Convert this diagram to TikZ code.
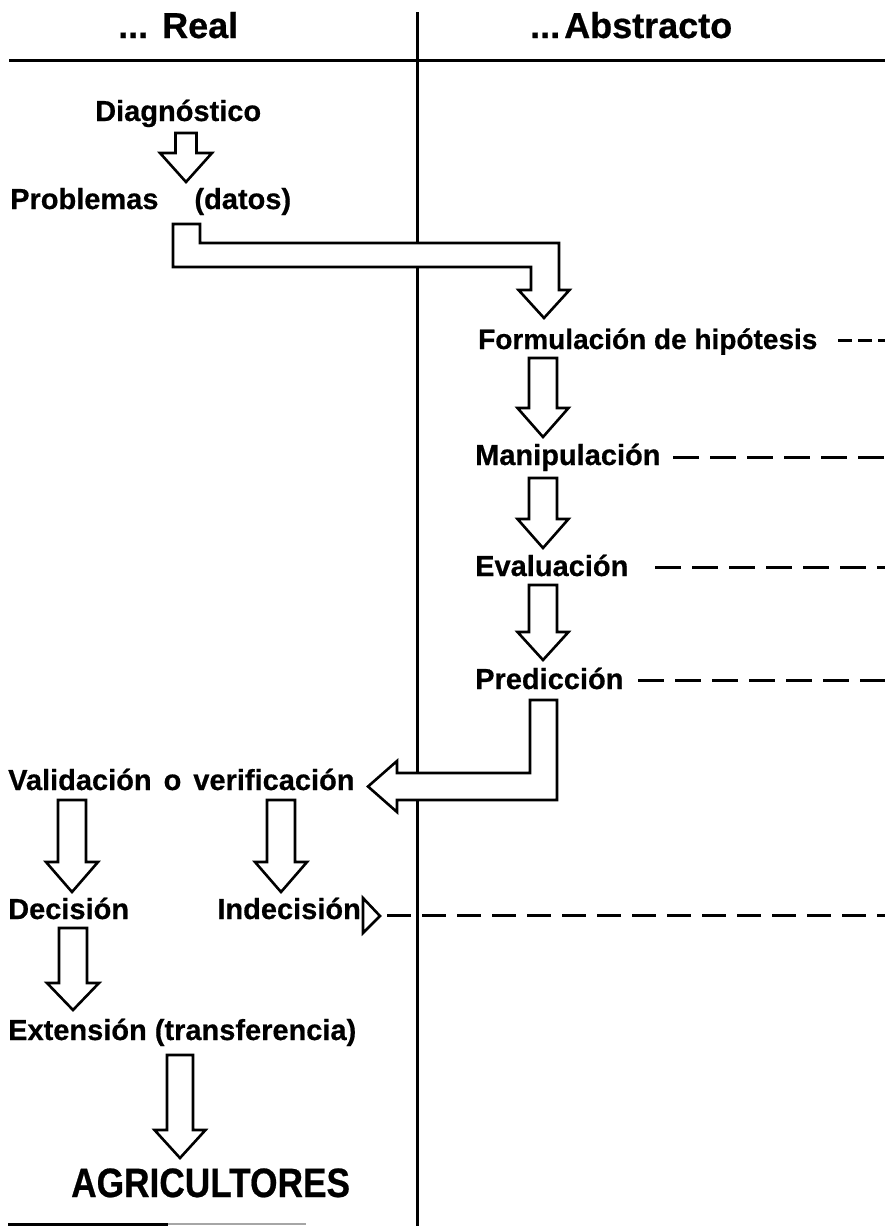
\documentclass[tikz,border=0pt]{standalone}
\usepackage{fontspec}
\setmainfont{Liberation Sans}
\newfontfamily\hv{Liberation Sans}[UprightFont=* Bold, FakeBold=0.6]
\usetikzlibrary{calc}
\newcommand{\fatdown}[5]{%
  \draw[fat] ($(#1)+(-#3,0)$) -- ($(#1)+(#3,0)$) -- ($(#2)+(#3,-#5)$) -- ($(#2)+(#4,-#5)$) -- (#2) -- ($(#2)+(-#4,-#5)$) -- ($(#2)+(-#3,-#5)$) -- cycle;}
\begin{document}
\begin{tikzpicture}[x=1pt,y=-1pt,
  lbl/.style={anchor=base west, inner sep=0pt, font=\fontsize{29}{31}\selectfont\hv},
  hdr/.style={anchor=base west, inner sep=0pt, font=\fontsize{36}{40}\selectfont\hv},
  rulew/.style={line width=3pt},
  fat/.style={draw, line width=2.6pt, fill=white, line join=miter},
  dline/.style={line width=3pt, dash pattern=on 26pt off 11pt}]
\useasboundingbox (0,0) rectangle (884,1226);
\fill[white] (0,0) rectangle (884,1226);
% frame lines
\coordinate (vt) at (417,12);
\coordinate (vb) at (417,1230);
\coordinate (hl) at (9,60);
\coordinate (hr) at (890,60);
\draw[rulew] (vt) -- (vb);
\draw[rulew] (hl) -- (hr);
\coordinate (bl) at (8,1224);
\coordinate (bm) at (168,1224);
\coordinate (br) at (306,1224);
\draw[rulew] (bl) -- (bm);
\draw[line width=2.5pt, black!35] (bm) -- (br);
% headers
\node[hdr] (real) at (118,38) {...\hspace{14pt}Real};
\node[hdr] (abs) at (530,38) {...\hspace{4pt}Abstracto};
% labels
\node[lbl] (diag) at (95,121) {Diagnóstico};
\node[lbl] (prob) at (10,209) {Problemas\hspace{36pt}(datos)};
\node[lbl, font=\fontsize{28}{31}\selectfont\hv] (form) at (478,349) {Formulación de hipótesis};
\node[lbl] (manip) at (475,465) {Manipulación};
\node[lbl] (eval) at (475,576) {Evaluación};
\node[lbl] (pred) at (475,689) {Predicción};
\node[lbl] (valid) at (8,790) {Validación\hspace{12pt}o\hspace{12pt}verificación};
\node[lbl] (dec) at (8,919) {Decisión};
\node[lbl, anchor=base east] (indec) at (361,919) {Indecisión};
\node[lbl] (ext) at (8,1040) {Extensión (transferencia)};
\node[anchor=base west, inner sep=0pt, font=\fontsize{41}{44}\selectfont\hv] (agri) at (71,1197) {\scalebox{0.86}[1]{AGRICULTORES}};
% straight fat arrows
\coordinate (a1t) at (186,133); \coordinate (a1h) at (186,182);
\fatdown{a1t}{a1h}{10.5}{26}{29}
\coordinate (a3t) at (543,358); \coordinate (a3h) at (543,437);
\fatdown{a3t}{a3h}{14}{25.5}{29}
\coordinate (a4t) at (543,478); \coordinate (a4h) at (543,548);
\fatdown{a4t}{a4h}{14}{25.5}{29}
\coordinate (a5t) at (543,585); \coordinate (a5h) at (543,660);
\fatdown{a5t}{a5h}{14}{25.5}{28}
\coordinate (a6t) at (72,800); \coordinate (a6h) at (72,892);
\fatdown{a6t}{a6h}{14}{26}{30}
\coordinate (a7t) at (281,800); \coordinate (a7h) at (281,892);
\fatdown{a7t}{a7h}{14}{26}{30}
\coordinate (a8t) at (73,928); \coordinate (a8h) at (73,1010);
\fatdown{a8t}{a8h}{14}{26}{27}
\coordinate (a9t) at (180,1055); \coordinate (a9h) at (180,1158);
\fatdown{a9t}{a9h}{13}{25.5}{28}
% bent arrow: Problemas -> Formulacion
\coordinate (b1t) at (186.5,224);
\coordinate (b1h) at (544,318);
\draw[fat] ($(b1t)+(-13.5,0)$) -- ($(b1t)+(13.5,0)$) -- ($(b1t)+(13.5,19)$) -- ($(b1h)+(15,-75)$) -- ($(b1h)+(15,-28)$) -- ($(b1h)+(25.5,-28)$) -- (b1h) -- ($(b1h)+(-25.5,-28)$) -- ($(b1h)+(-13,-28)$) -- ($(b1h)+(-13,-51)$) -- ($(b1t)+(-13.5,43)$) -- cycle;
% bent arrow: Prediccion -> Validacion
\coordinate (b2t) at (543.5,700);
\coordinate (b2h) at (368,786.5);
\draw[fat] ($(b2t)+(-13.5,0)$) -- ($(b2t)+(13.5,0)$) -- ($(b2t)+(13.5,100)$) -- ($(b2h)+(29,13.5)$) -- ($(b2h)+(29,25.5)$) -- (b2h) -- ($(b2h)+(29,-25.5)$) -- ($(b2h)+(29,-13.5)$) -- ($(b2t)+(-13.5,73)$) -- cycle;
% small right triangle after Indecision
\coordinate (tri) at (380,916);
\draw[line width=2.6pt, line join=miter] ($(tri)+(-17,-18)$) -- (tri) -- ($(tri)+(-17,17)$) -- cycle;
% dashed lines
\coordinate (d1a) at (838,340); \coordinate (d1b) at (890,340);
\draw[line width=3pt, dash pattern=on 14pt off 6pt] (d1a) -- (d1b);
\coordinate (d2a) at (673,457); \coordinate (d2b) at (890,457);
\draw[dline] (d2a) -- (d2b);
\coordinate (d3a) at (655,567); \coordinate (d3b) at (890,567);
\draw[dline] (d3a) -- (d3b);
\coordinate (d4a) at (638,680); \coordinate (d4b) at (890,680);
\draw[dline] (d4a) -- (d4b);
\coordinate (d5a) at (387,915); \coordinate (d5b) at (890,915);
\draw[line width=3pt, dash pattern=on 24pt off 11pt] (d5a) -- (d5b);
\end{tikzpicture}
\end{document}
